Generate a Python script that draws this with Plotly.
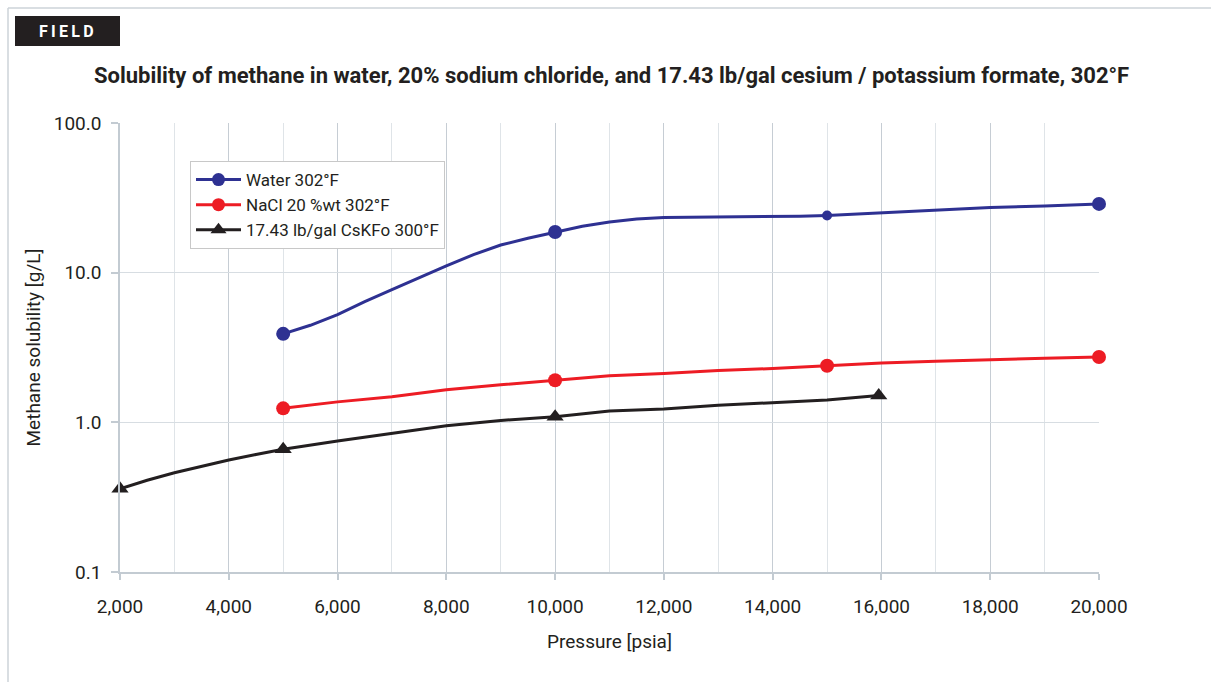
import plotly.graph_objects as go

# Pressure [psia] and methane solubility [g/L] along each curve
water_p = [5000, 5500, 6000, 6500, 7000, 7500, 8000, 8500, 9000, 9500, 10000,
           10500, 11000, 11500, 12000, 13000, 14000, 14500, 15000, 16000, 17000,
           18000, 19000, 20000]
water_s = [3.9, 4.45, 5.25, 6.4, 7.7, 9.3, 11.1, 13.2, 15.3, 17.0, 18.7,
           20.4, 21.8, 22.8, 23.4, 23.6, 23.6, 23.8, 24.1, 25.2, 26.3,
           27.3, 27.9, 28.8]
water_mark_p = [5000, 10000, 15000, 20000]
water_mark_s = [3.9, 18.7, 24.1, 28.8]
water_mark_size = [14, 14, 10, 14]

nacl_p = [5000, 6000, 7000, 8000, 9000, 10000, 11000, 12000, 13000, 14000,
          15000, 16000, 17000, 18000, 19000, 20000]
nacl_s = [1.24, 1.37, 1.48, 1.65, 1.78, 1.91, 2.05, 2.12, 2.22, 2.29,
          2.39, 2.49, 2.56, 2.63, 2.68, 2.73]
nacl_mark_p = [5000, 10000, 15000, 20000]
nacl_mark_s = [1.24, 1.91, 2.39, 2.73]

cskfo_p = [2000, 2500, 3000, 3500, 4000, 4500, 5000, 6000, 7000, 8000, 9000,
           10000, 11000, 12000, 13000, 14000, 15000, 15950]
cskfo_s = [0.36, 0.41, 0.46, 0.51, 0.56, 0.61, 0.66, 0.75, 0.84, 0.95, 1.03,
           1.09, 1.19, 1.23, 1.30, 1.35, 1.41, 1.51]
cskfo_mark_p = [2000, 5000, 10000, 15950]
cskfo_mark_s = [0.36, 0.66, 1.09, 1.51]

series_names = ["Water 302°F", "NaCl 20 %wt 302°F", "17.43 lb/gal CsKFo 300°F"]
x_ticks = [2000, 4000, 6000, 8000, 10000, 12000, 14000, 16000, 18000, 20000]
y_ticks = [0.1, 1, 10, 100]
y_tick_text = ["0.1", "1.0", "10.0", "100.0"]

BLUE = "#2e3192"
RED = "#ed1c24"
BLACK = "#231f20"
TEXT = "#231f20"
FONT = "Roboto"

W, H = 1211, 682
ML, MR, MT, MB = 120, 112, 123, 110
PW, PH = W - ML - MR, H - MT - MB


def px_x(px):
    return (px - ML) / PW


def px_y(py):
    return (H - MB - py) / PH


fig = go.Figure()

styles = [
    (water_p, water_s, water_mark_p, water_mark_s, water_mark_size, BLUE, "circle"),
    (nacl_p, nacl_s, nacl_mark_p, nacl_mark_s, 14, RED, "circle"),
    (cskfo_p, cskfo_s, cskfo_mark_p, cskfo_mark_s, 15, BLACK, "triangle-up"),
]

for name, (lp, ls, mp, ms, msize, col, sym) in zip(series_names, styles):
    fig.add_trace(go.Scatter(x=lp, y=ls, mode="lines", line=dict(color=col, width=3),
                             showlegend=False, hoverinfo="skip", cliponaxis=False))
    fig.add_trace(go.Scatter(x=mp, y=ms, mode="markers", cliponaxis=False,
                             marker=dict(color=col, size=msize, symbol=sym, opacity=1,
                                         line=dict(width=0)),
                             showlegend=False))
    # legend entry
    fig.add_trace(go.Scatter(x=[None], y=[None], mode="lines+markers", name=name,
                             line=dict(color=col, width=3),
                             marker=dict(color=col, size=13 if sym == "circle" else 14,
                                         symbol=sym)))

fig.update_layout(
    width=W, height=H,
    margin=dict(l=ML, r=MR, t=MT, b=MB),
    paper_bgcolor="white", plot_bgcolor="white",
    font=dict(family=FONT, color=TEXT, size=15),
    title=dict(
        text="<b>Solubility of methane in water, 20% sodium chloride, and 17.43 lb/gal cesium / potassium formate, 302°F</b>",
        x=0.505, xanchor="center", y=1 - 75 / H, yanchor="middle",
        font=dict(family=FONT, size=22, color=TEXT),
    ),
    xaxis=dict(
        range=[2000, 20000], tickvals=x_ticks, tickformat=",d",
        showline=True, linecolor="#c3cbd2", linewidth=1.5,
        ticks="outside", ticklen=6, tickcolor="#c3cbd2", tickwidth=1.5,
        ticklabelstandoff=10,
        showgrid=True, gridcolor="#c6cdd4", gridwidth=1.2,
        minor=dict(dtick=1000, showgrid=True, gridcolor="#dfe4e8", gridwidth=1, ticks=""),
        zeroline=False,
        tickfont=dict(size=19, color=TEXT),
        title=dict(text="Pressure [psia]", font=dict(size=19, color=TEXT), standoff=18),
    ),
    yaxis=dict(
        type="log", range=[-1, 2], tickvals=y_ticks, ticktext=y_tick_text,
        showline=True, linecolor="#c3cbd2", linewidth=1.5,
        ticks="outside", ticklen=7, tickcolor="#c3cbd2", tickwidth=1.5,
        ticklabelstandoff=6,
        showgrid=True, gridcolor="#d7dde2", gridwidth=1.2,
        zeroline=False,
        tickfont=dict(size=19, color=TEXT),
        title=dict(text="Methane solubility [g/L]", font=dict(size=19, color=TEXT), standoff=8),
    ),
    legend=dict(
        x=px_x(190), y=px_y(161), xanchor="left", yanchor="top",
        bgcolor="white", bordercolor="#c8c8c8", borderwidth=1,
        font=dict(size=17, color=TEXT), itemwidth=45,
        tracegroupgap=0, itemsizing="trace",
    ),
    shapes=[
        # page frame (top and left edges)
        dict(type="line", xref="paper", yref="paper",
             x0=px_x(8), x1=px_x(W + 5), y0=px_y(8), y1=px_y(8),
             line=dict(color="#cdd3d8", width=1.5)),
        dict(type="line", xref="paper", yref="paper",
             x0=px_x(8), x1=px_x(8), y0=px_y(8), y1=px_y(H + 5),
             line=dict(color="#cdd3d8", width=1.5)),
        # section tag box
        dict(type="rect", xref="paper", yref="paper",
             x0=px_x(15), x1=px_x(120), y0=px_y(16), y1=px_y(46),
             fillcolor=BLACK, line=dict(width=0)),
    ],
    annotations=[
        dict(text="<b>F\u2009I\u2009E\u2009L\u2009D</b>", xref="paper", yref="paper",
             x=px_x(66), y=px_y(31), xanchor="center", yanchor="middle",
             showarrow=False, font=dict(family=FONT, size=16, color="white")),
    ],
)

fig.write_html("out.html")
